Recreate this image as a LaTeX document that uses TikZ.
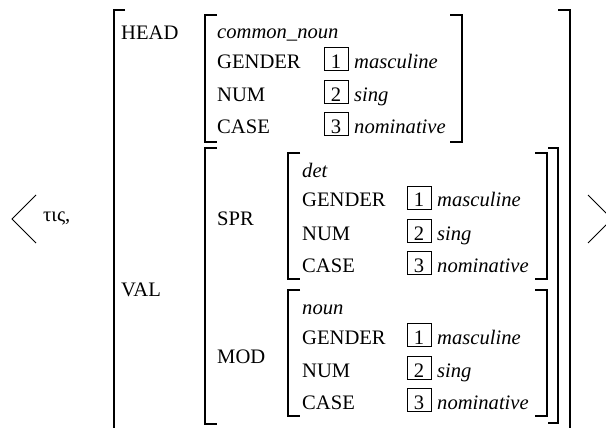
\documentclass[tikz,border=0pt]{standalone}
\usepackage{fontspec}
\setmainfont{Liberation Serif}
\begin{document}
\begin{tikzpicture}[x=1pt,y=-1pt,
  txt/.style={anchor=base west,inner sep=0pt,font=\fontsize{20.6}{24}\selectfont},
  ital/.style={txt,font=\fontsize{20.6}{24}\selectfont\itshape},
  brk/.style={line width=1.3pt},
  ang/.style={line width=0.9pt},
  tagbox/.style={draw,line width=1pt,minimum width=24pt,minimum height=23pt,inner sep=0pt}]
\useasboundingbox (0,0) rectangle (606,428);
\clip (0,0) rectangle (606,428);
% angle brackets and word
\draw[ang] (36,195) -- (12,219) -- (36,243);
\draw[ang] (588,195) -- (612,219) -- (588,243);
\node[txt] (word) at (43,222) {τις,};
% outer AVM
\draw[brk] (125,10) -- (114,10) -- (114,440);
\draw[brk] (558,10) -- (570,10) -- (570,440);
\node[txt] (head) at (121,40) {HEAD};
\node[txt] (val) at (121,296) {VAL};
% HEAD value brackets
\draw[brk] (217,15) -- (205,15) -- (205,142) -- (217,142);
\draw[brk] (450,15) -- (462,15) -- (462,142) -- (450,142);
% VAL brackets
\draw[brk] (217,148) -- (205,148) -- (205,424) -- (217,424);
\draw[brk] (548,148) -- (558,148) -- (558,423) -- (548,423);
\node[txt] (spr) at (217,225) {SPR};
\node[txt] (mod) at (217,363) {MOD};
% SPR brackets
\draw[brk] (300,153) -- (288,153) -- (288,279) -- (300,279);
\draw[brk] (535,153) -- (547,153) -- (547,279) -- (535,279);
% MOD brackets
\draw[brk] (300,290) -- (288,290) -- (288,416) -- (300,416);
\draw[brk] (535,290) -- (547,290) -- (547,416) -- (535,416);
% feature structures
\foreach \p/\lx/\bx/\tp/\typ in {h/217/324/15/common\_noun, s/302/407/153/det, m/302/407/290/noun}{
  \node[ital] (\p-type) at (\lx,\tp+24) {\typ};
  \foreach \k/\attr/\val/\off in {1/GENDER/masculine/54, 2/NUM/sing/87, 3/CASE/nominative/119}{
    \node[txt] (\p-a\k) at (\lx,\tp+\off) {\attr};
    \node[tagbox] (\p-b\k) at (\bx+12,\tp+\off-9.5) {};
    \node[txt,anchor=base] (\p-n\k) at (\bx+12,\tp+\off) {\k};
    \node[ital] (\p-v\k) at (\bx+30,\tp+\off) {\val};
  }
}
\end{tikzpicture}
\end{document}
